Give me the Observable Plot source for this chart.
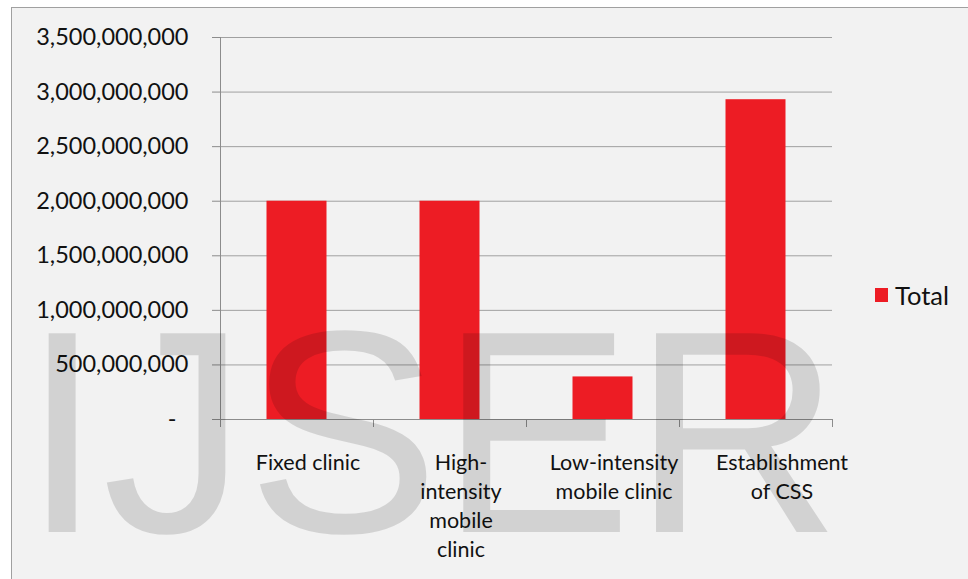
<!DOCTYPE html>
<html><head><meta charset="utf-8">
<script src="https://cdn.jsdelivr.net/npm/d3@7"></script>
<script src="https://cdn.jsdelivr.net/npm/@observablehq/plot@0.6"></script>
<style>
body{margin:0;background:#fff;}
#wrap{position:relative;width:968px;height:579px;overflow:hidden;font-family:Lato,sans-serif;}
#bg{position:absolute;left:11px;top:7px;width:1000px;height:700px;background:#f2f2f2;border:1px solid #a0a0a0;box-sizing:border-box;}
#chart{position:absolute;left:0;top:0;}
#legend{position:absolute;left:875px;top:280px;display:flex;align-items:center;font-size:25.5px;color:#111;font-family:Lato,sans-serif;}
#legend .sw{width:13px;height:14px;background:#ed1c24;margin-right:7px;}
#wm{position:absolute;left:0;top:0;pointer-events:none;}
</style></head>
<body>
<div id="wrap"><div id="bg"></div><div id="chart"></div><div id="legend"></div>
<svg id="wm" width="968" height="579"><text x="22" y="532" font-family="Liberation Sans, Arial, sans-serif" font-size="289" fill="rgba(0,0,0,0.13)">IJSER</text></svg>
</div>
<script>
const categories = ["Fixed clinic", "High-intensity mobile clinic", "Low-intensity mobile clinic", "Establishment of CSS"];
const labelLines = ["Fixed clinic", "High-\nintensity\nmobile\nclinic", "Low-intensity\nmobile clinic", "Establishment\nof CSS"];
const values = [2000000000, 2000000000, 390000000, 2930000000];
const yTicks = [0, 500000000, 1000000000, 1500000000, 2000000000, 2500000000, 3000000000, 3500000000];
const seriesName = "Total";
const barColor = "#ed1c24";

const data = categories.map((c, i) => ({category: c, value: values[i]}));
const fmt = d3.format(",");
const axisGray = "#8c8c8c";
const labelStyle = {tickSize: 0, tickPadding: 30, fontSize: 21.5, lineHeight: 1.35, fill: "#111",
  tickFormat: d => labelLines[categories.indexOf(d)], label: null};
const last = categories[categories.length - 1];

const chart = Plot.plot({
  width: 968, height: 579,
  marginLeft: 220, marginRight: 136, marginTop: 37, marginBottom: 160,
  style: {background: "transparent", fontFamily: "Lato, sans-serif", color: "#111"},
  x: {domain: categories, padding: 0, label: null},
  y: {domain: [0, 3500000000], label: null},
  marks: [
    Plot.gridY(yTicks, {stroke: "#a0a0a0", strokeOpacity: 1}),
    Plot.barY(data, {x: "category", y: "value", fill: barColor, insetLeft: 46.5, insetRight: 46.5}),
    Plot.ruleY([0], {stroke: axisGray}),
    Plot.frame({anchor: "left", stroke: axisGray}),
    Plot.axisY({ticks: yTicks, tickSize: 8, tickPadding: 24, stroke: axisGray, fill: "#111", fontSize: 23.5,
      tickFormat: d => d === 0 ? "-\u00a0\u00a0" : fmt(d), label: null}),
    Plot.axisX({tickSize: 8, dx: -76.5, tickFormat: () => "", stroke: axisGray, label: null}),
    Plot.axisX({ticks: [last], tickSize: 8, dx: 76.5, tickFormat: () => "", stroke: axisGray, label: null}),
    Plot.axisX({...labelStyle, ticks: categories.slice(0, -1), dx: 11}),
    Plot.axisX({...labelStyle, ticks: [last], dx: 26})
  ]
});
document.getElementById("chart").appendChild(chart);
document.getElementById("legend").innerHTML = `<div class="sw"></div><span>${seriesName}</span>`;
</script>
</body></html>
